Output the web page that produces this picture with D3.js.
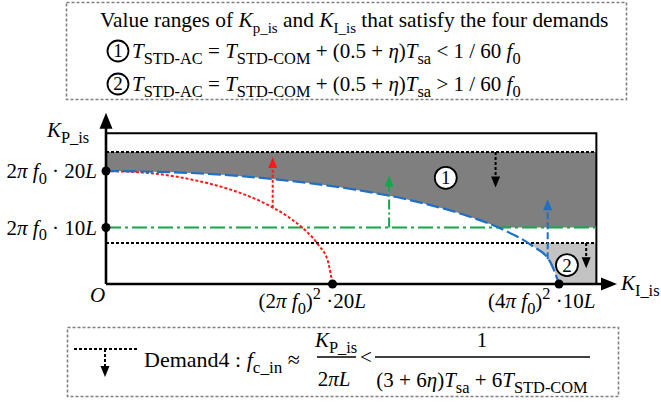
<!DOCTYPE html>
<html>
<head>
<meta charset="utf-8">
<script src="https://cdn.jsdelivr.net/npm/d3@7"></script>
<style>
  html, body { margin: 0; padding: 0; background: #fff; }
  svg text { font-family: "Liberation Serif", "Times New Roman", serif; fill: #000; white-space: pre; }
</style>
</head>
<body>
<svg id="chart" width="661" height="404"></svg>
<script>
// K_I_is in units of (2*pi*f0)^2 * 20L, K_P_is in units of 2*pi*f0 * L
const xTickValues = [1, 2];
const yTickValues = [20, 10];

// Demand boundaries on K_P_is
const demand4Case1 = 23.36;   // upper dotted limit, case 1
const demand4Case2 = 7.26;    // lower dotted limit, case 2
const greenLevel = 10;        // 2*pi*f0*10L
const frameTop = 26.7;
const frameRight = 2.165;
const axisTopEnd = 30.3;
const axisRightEnd = 2.256;

const redCurve = [[0, 20], [0.2, 19.6], [0.4, 18.3], [0.55, 16.7], [0.7, 14.3], [0.8, 12], [0.88, 9.5], [0.94, 6.8], [0.98, 4], [1, 0]];
const blueCurve = [[0, 20], [0.4, 19.6], [0.8, 18.3], [1.1, 16.7], [1.4, 14.3], [1.6, 12], [1.76, 9.5], [1.88, 6.8], [1.96, 4], [2, 0]];

// Direction arrows: [K_I_is, from K_P_is, to K_P_is]
const redArrow = [0.736, 13.5, 22.5];
const greenArrow = [1.25, 10, 19.2];
const blueArrow = [1.95, 4.4, 15.0];
const blackArrows = [[1.72, 23.36, 17.1], [2.12, 7.26, 2.8]];

// Region markers: [K_I_is, K_P_is, label]
const regionMarks = [[1.5, 18.8, "1"], [2.035, 3.35, "2"]];

const svg = d3.select("#chart");
const x = d3.scaleLinear().domain([0, 2]).range([106, 559]);
const y = d3.scaleLinear().domain([0, 20]).range([284, 171]);

const RED = "#ff1a1a", BLUE = "#1f6fc6", GREEN = "#12a84a";
const FS = 21;

// Rich text: segments of {t, i (italic), sub, sup, dx}
function rich(parent, px, py, segs, size, anchor) {
  const t = parent.append("text").attr("x", px).attr("y", py)
    .attr("font-size", size).attr("text-anchor", anchor || "start");
  let shift = 0;
  segs.forEach(s => {
    const ts = t.append("tspan").text(s.t);
    if (s.i) ts.attr("font-style", "italic");
    const target = s.sub ? size * 0.28 : s.sup ? -size * 0.42 : 0;
    if (target !== shift) ts.attr("dy", target - shift);
    shift = target;
    if (s.sub || s.sup) ts.attr("font-size", size * (s.scale || 0.78));
    if (s.dx) ts.attr("dx", s.dx);
  });
  return t;
}

function circled(parent, cx, cy, r, label, size) {
  parent.append("circle").attr("cx", cx).attr("cy", cy).attr("r", r)
    .attr("fill", "#fff").attr("stroke", "#000").attr("stroke-width", 1.8);
  parent.append("text").attr("x", cx).attr("y", cy + size * 0.34)
    .attr("text-anchor", "middle").attr("font-size", size).text(label);
}

function arrowHead(parent, px, tipY, dir, color, w, h) {
  // dir = -1 points up, +1 points down
  const baseY = tipY - dir * h;
  parent.append("path")
    .attr("d", `M${px},${tipY}L${px - w / 2},${baseY}L${px + w / 2},${baseY}Z`)
    .attr("fill", color);
}

// ---- Filled regions ----
const plot = svg.append("g");
plot.append("rect")
  .attr("x", x(0)).attr("y", y(demand4Case2))
  .attr("width", x(frameRight) - x(0)).attr("height", y(0) - y(demand4Case2))
  .attr("fill", "#c3c3c3");
plot.append("rect")
  .attr("x", x(0)).attr("y", y(demand4Case1))
  .attr("width", x(frameRight) - x(0)).attr("height", y(greenLevel) - y(demand4Case1))
  .attr("fill", "#7f7f7f");
// area under the blue boundary stays unshaded
plot.append("path")
  .datum(blueCurve)
  .attr("d", d3.area().x(d => x(d[0])).y0(y(0)).y1(d => y(d[1])).curve(d3.curveMonotoneX))
  .attr("fill", "#fff");

// ---- Frame ----
plot.append("path")
  .attr("d", `M${x(0)},${y(frameTop)}H${x(frameRight)}V${y(0)}`)
  .attr("fill", "none").attr("stroke", "#000").attr("stroke-width", 2);

// ---- Demand lines ----
[demand4Case1, demand4Case2].forEach(v => {
  plot.append("line").attr("x1", x(0)).attr("x2", x(frameRight))
    .attr("y1", y(v)).attr("y2", y(v))
    .attr("stroke", "#000").attr("stroke-width", 2).attr("stroke-dasharray", "3,2");
});
plot.append("line").attr("x1", x(0)).attr("x2", x(frameRight))
  .attr("y1", y(greenLevel)).attr("y2", y(greenLevel))
  .attr("stroke", GREEN).attr("stroke-width", 2.2).attr("stroke-dasharray", "15,4,3,4");

const line = d3.line().x(d => x(d[0])).y(d => y(d[1])).curve(d3.curveMonotoneX);
plot.append("path").datum(redCurve).attr("d", line)
  .attr("fill", "none").attr("stroke", RED).attr("stroke-width", 2).attr("stroke-dasharray", "3,2");
plot.append("path").datum(blueCurve).attr("d", line)
  .attr("fill", "none").attr("stroke", BLUE).attr("stroke-width", 2.2).attr("stroke-dasharray", "13,4");

// ---- Direction arrows ----
function vArrow(a, color, dash) {
  const dir = a[2] > a[1] ? -1 : 1;
  const tip = y(a[2]);
  plot.append("line").attr("x1", x(a[0])).attr("x2", x(a[0]))
    .attr("y1", y(a[1])).attr("y2", tip - dir * 8)
    .attr("stroke", color).attr("stroke-width", 2).attr("stroke-dasharray", dash);
  arrowHead(plot, x(a[0]), tip, dir, color, 9, 11);
}
vArrow(redArrow, RED, "3,2");
vArrow(greenArrow, GREEN, "10,3,2,3");
vArrow(blueArrow, BLUE, "7,3");
blackArrows.forEach(a => vArrow(a, "#000", "3,2"));

regionMarks.forEach(m => circled(plot, x(m[0]), y(m[1]), 11, m[2], 19));

// ---- Axes ----
const axes = svg.append("g");
axes.append("line").attr("x1", x(0)).attr("x2", x(0)).attr("y1", y(0)).attr("y2", y(axisTopEnd) + 10)
  .attr("stroke", "#000").attr("stroke-width", 2.6);
axes.append("line").attr("x1", x(0)).attr("x2", x(axisRightEnd) - 10).attr("y1", y(0)).attr("y2", y(0))
  .attr("stroke", "#000").attr("stroke-width", 2.6);
axes.append("path")
  .attr("d", `M${x(0)},${y(axisTopEnd)}L${x(0) - 6.5},${y(axisTopEnd) + 16}L${x(0) + 6.5},${y(axisTopEnd) + 16}Z`);
axes.append("path")
  .attr("d", `M${x(axisRightEnd)},${y(0)}L${x(axisRightEnd) - 16},${y(0) - 6.5}L${x(axisRightEnd) - 16},${y(0) + 6.5}Z`);

// tick dots
yTickValues.forEach(v => axes.append("circle").attr("cx", x(0)).attr("cy", y(v)).attr("r", 4.5));
xTickValues.forEach(v => axes.append("circle").attr("cx", x(v)).attr("cy", y(0)).attr("r", 4.5));

// tick labels
const yLabels = {
  20: [{t: "2"}, {t: "π", i: true}, {t: " f", i: true}, {t: "0", sub: true}, {t: " · 20"}, {t: "L", i: true}],
  10: [{t: "2"}, {t: "π", i: true}, {t: " f", i: true}, {t: "0", sub: true}, {t: " · 10"}, {t: "L", i: true}]
};
yTickValues.forEach(v => rich(axes, x(0) - 9, y(v) + 7, yLabels[v], FS, "end"));

const xLabels = {
  1: [{t: "(2"}, {t: "π", i: true}, {t: " f", i: true}, {t: "0", sub: true}, {t: ")"}, {t: "2", sup: true}, {t: " ·20"}, {t: "L", i: true}],
  2: [{t: "(4"}, {t: "π", i: true}, {t: " f", i: true}, {t: "0", sub: true}, {t: ")"}, {t: "2", sup: true}, {t: " ·10"}, {t: "L", i: true}]
};
const xLabelStart = {1: -74, 2: -71};
xTickValues.forEach(v => rich(axes, x(v) + xLabelStart[v], y(0) + 24, xLabels[v], FS, "start"));

rich(axes, x(0) - 59, y(0) - 147, [{t: "K", i: true}, {t: "P_is", sub: true}], FS, "start");
rich(axes, x(axisRightEnd) + 4, y(0) + 6, [{t: "K", i: true}, {t: "I_is", sub: true}], FS, "start");
rich(axes, x(0) - 16, y(0) + 18, [{t: "O", i: true}], FS, "start");

// ---- Top note box ----
const noteTop = svg.append("g");
noteTop.append("rect").attr("x", 66.5).attr("y", 2.5).attr("width", 560).attr("height", 97)
  .attr("fill", "none").attr("stroke", "#808080").attr("stroke-width", 1.6).attr("stroke-dasharray", "3,2");
rich(noteTop, 100, 27, [
  {t: "Value ranges of "}, {t: "K", i: true}, {t: "p_is", sub: true, scale: 0.7}, {t: " and "},
  {t: "K", i: true}, {t: "I_is", sub: true, scale: 0.7}, {t: " that satisfy the four demands"}
], 21.4);
const caseRows = [
  {cy: 51, rel: "<"},
  {cy: 84, rel: ">"}
];
caseRows.forEach((r, k) => {
  circled(noteTop, 118, r.cy, 10.5, String(k + 1), 19);
  rich(noteTop, 132, r.cy + 7, [
    {t: "T", i: true}, {t: "STD-AC", sub: true}, {t: " = "},
    {t: "T", i: true}, {t: "STD-COM", sub: true}, {t: " + (0.5 + "}, {t: "η", i: true}, {t: ")"},
    {t: "T", i: true}, {t: "sa", sub: true}, {t: " " + r.rel + " 1 / 60 "}, {t: "f", i: true}, {t: "0", sub: true}
  ], FS);
});

// ---- Bottom note box ----
const noteBottom = svg.append("g");
noteBottom.append("rect").attr("x", 67.5).attr("y", 327.5).attr("width", 551).attr("height", 69)
  .attr("fill", "none").attr("stroke", "#808080").attr("stroke-width", 1.6).attr("stroke-dasharray", "3,2");
noteBottom.append("line").attr("x1", 74).attr("x2", 137).attr("y1", 349).attr("y2", 349)
  .attr("stroke", "#000").attr("stroke-width", 2).attr("stroke-dasharray", "3,2");
noteBottom.append("line").attr("x1", 105).attr("x2", 105).attr("y1", 349).attr("y2", 368)
  .attr("stroke", "#000").attr("stroke-width", 2).attr("stroke-dasharray", "3,2");
arrowHead(noteBottom, 105, 377, 1, "#000", 9, 11);

rich(noteBottom, 144, 367, [{t: "Demand4 : "}, {t: "f", i: true}, {t: "c_in", sub: true}, {t: " ≈"}], 22);
rich(noteBottom, 336, 347, [{t: "K", i: true}, {t: "P_is", sub: true}], FS, "middle");
noteBottom.append("line").attr("x1", 317).attr("x2", 356).attr("y1", 357).attr("y2", 357).attr("stroke", "#000").attr("stroke-width", 1.5);
rich(noteBottom, 334, 386, [{t: "2"}, {t: "π", i: true}, {t: "L", i: true}], FS, "middle");
rich(noteBottom, 360, 364, [{t: "<"}], FS);
rich(noteBottom, 482, 347, [{t: "1"}], FS, "middle");
noteBottom.append("line").attr("x1", 375).attr("x2", 590).attr("y1", 357).attr("y2", 357).attr("stroke", "#000").attr("stroke-width", 1.5);
rich(noteBottom, 482, 387, [
  {t: "(3 + 6"}, {t: "η", i: true}, {t: ")"}, {t: "T", i: true}, {t: "sa", sub: true},
  {t: " + 6"}, {t: "T", i: true}, {t: "STD-COM", sub: true}
], FS, "middle");
</script>
</body>
</html>
